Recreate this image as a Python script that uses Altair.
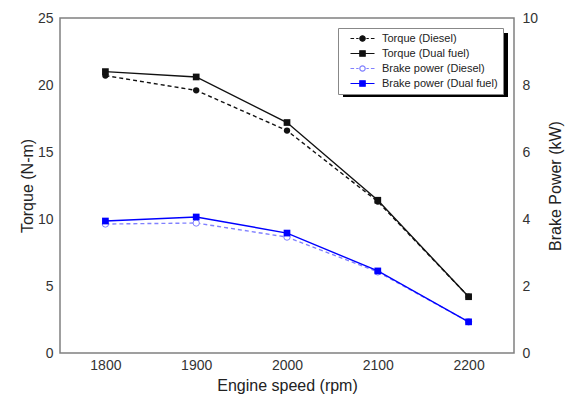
import altair as alt
import pandas as pd

# ---- data ----
rpm = [1800, 1900, 2000, 2100, 2200]
torque_diesel = [20.7, 19.6, 16.6, 11.3, 4.2]
torque_dual = [21.0, 20.6, 17.2, 11.4, 4.2]
power_diesel = [3.85, 3.88, 3.46, 2.42, 0.93]
power_dual = [3.94, 4.06, 3.58, 2.45, 0.93]
series_names = ["Torque (Diesel)", "Torque (Dual fuel)",
                "Brake power (Diesel)", "Brake power (Dual fuel)"]
torque_ticks = [0, 5, 10, 15, 20, 25]
power_ticks = [0, 2, 4, 6, 8, 10]

FONT = "Liberation Sans"
BLACK = "#111111"
LIGHT_BLUE = "#8080ff"
BLUE = "#0000ff"

torque_df = pd.DataFrame({
    "rpm": rpm * 2,
    "torque": torque_diesel + torque_dual,
    "series": [series_names[0]] * 5 + [series_names[1]] * 5,
})
power_df = pd.DataFrame({
    "rpm": rpm * 2,
    "power": power_diesel + power_dual,
    "series": [series_names[2]] * 5 + [series_names[3]] * 5,
})

x = alt.X("rpm:Q", scale=alt.Scale(domain=[1750, 2250], nice=False, zero=False),
          axis=alt.Axis(values=rpm, format="d", title="Engine speed (rpm)",
                        labelPadding=5, titlePadding=5))
y_t = alt.Y("torque:Q", scale=alt.Scale(domain=[0, 25], nice=False),
            axis=alt.Axis(values=torque_ticks, title="Torque (N-m)", orient="left",
                          labelPadding=7, titlePadding=2))
y_p = alt.Y("power:Q", scale=alt.Scale(domain=[0, 10], nice=False),
            axis=alt.Axis(values=power_ticks, title="Brake Power (kW)", orient="right",
                          labelPadding=8, titlePadding=26, titleAngle=270))

# legend symbols: line + marker drawn as custom paths
dash_circle = ("M-4,0H-2.8M-2.1,0H-1.3M1.3,0H2.1M2.8,0H4"
               "M0.9,0A0.9,0.9,0,1,1,-0.9,0A0.9,0.9,0,1,1,0.9,0Z")
solid_square = "M-4,0H4M-0.9,-0.9H0.9V0.9H-0.9Z"
legend_paths = [dash_circle, solid_square, dash_circle, solid_square]
legend_fills = [BLACK, BLACK, "white", BLUE]
legend_strokes = [BLACK, BLACK, LIGHT_BLUE, BLUE]

leg = alt.Legend(orient="none", legendX=278, legendY=10, fillColor="white",
                 strokeColor="#888888", padding=5, symbolSize=36, symbolStrokeWidth=1.2,
                 symbolOffset=14, labelOffset=14, labelFont=FONT, labelFontSize=11,
                 labelColor="#222222", rowPadding=3, labelLimit=300)

legend_layer = alt.Chart(torque_df).transform_filter("false").mark_point(
    filled=False, strokeWidth=1.2, opacity=1).encode(
    x=x, y=y_t,
    shape=alt.Shape("series:N", title=None, legend=leg,
                    scale=alt.Scale(domain=series_names, range=legend_paths)),
    fill=alt.Fill("series:N", title=None, legend=leg,
                  scale=alt.Scale(domain=series_names, range=legend_fills)),
    stroke=alt.Stroke("series:N", title=None, legend=leg,
                      scale=alt.Scale(domain=series_names, range=legend_strokes)),
)

shadow = alt.Chart(pd.DataFrame({"a": [0]})).mark_rect(color="black").encode(
    x=alt.value(283), x2=alt.value(448), y=alt.value(15), y2=alt.value(79))


def series_layers(df, ycol, name, color, dashed, shape, hollow):
    sub = alt.Chart(df).transform_filter(alt.datum.series == name)
    line_kw = dict(color=color, strokeWidth=1.4)
    if dashed:
        line_kw["strokeDash"] = [4, 3]
    line = sub.mark_line(**line_kw).encode(x=x, y=ycol)
    if hollow:
        pts = sub.mark_point(shape=shape, filled=True, fill="white", stroke=color,
                             strokeWidth=1, size=40, opacity=1).encode(x=x, y=ycol)
    else:
        pts = sub.mark_point(shape=shape, filled=True, color=color,
                             size=45 if shape == "square" else 40, opacity=1).encode(x=x, y=ycol)
    return [line, pts]


torque_layer = alt.layer(
    shadow, legend_layer,
    *series_layers(torque_df, y_t, series_names[0], BLACK, True, "circle", False),
    *series_layers(torque_df, y_t, series_names[1], BLACK, False, "square", False),
)
power_layer = alt.layer(
    *series_layers(power_df, y_p, series_names[2], LIGHT_BLUE, True, "circle", True),
    *series_layers(power_df, y_p, series_names[3], BLUE, False, "square", False),
)

chart = alt.layer(torque_layer, power_layer).resolve_scale(
    y="independent"
).properties(
    width=454, height=335,
    padding={"left": 60, "top": 18, "right": 57, "bottom": 44},
    autosize=alt.AutoSizeParams(type="none"),
    background="white",
).configure_view(
    stroke="#808080", strokeWidth=1.5
).configure_axis(
    domain=False, ticks=False, grid=False,
    labelFont=FONT, labelFontSize=14, labelColor="#333333",
    titleFont=FONT, titleFontSize=16, titleFontWeight="normal", titleColor="#222222",
)

chart.save("out.html", embed_options={"renderer": "svg", "actions": False})
